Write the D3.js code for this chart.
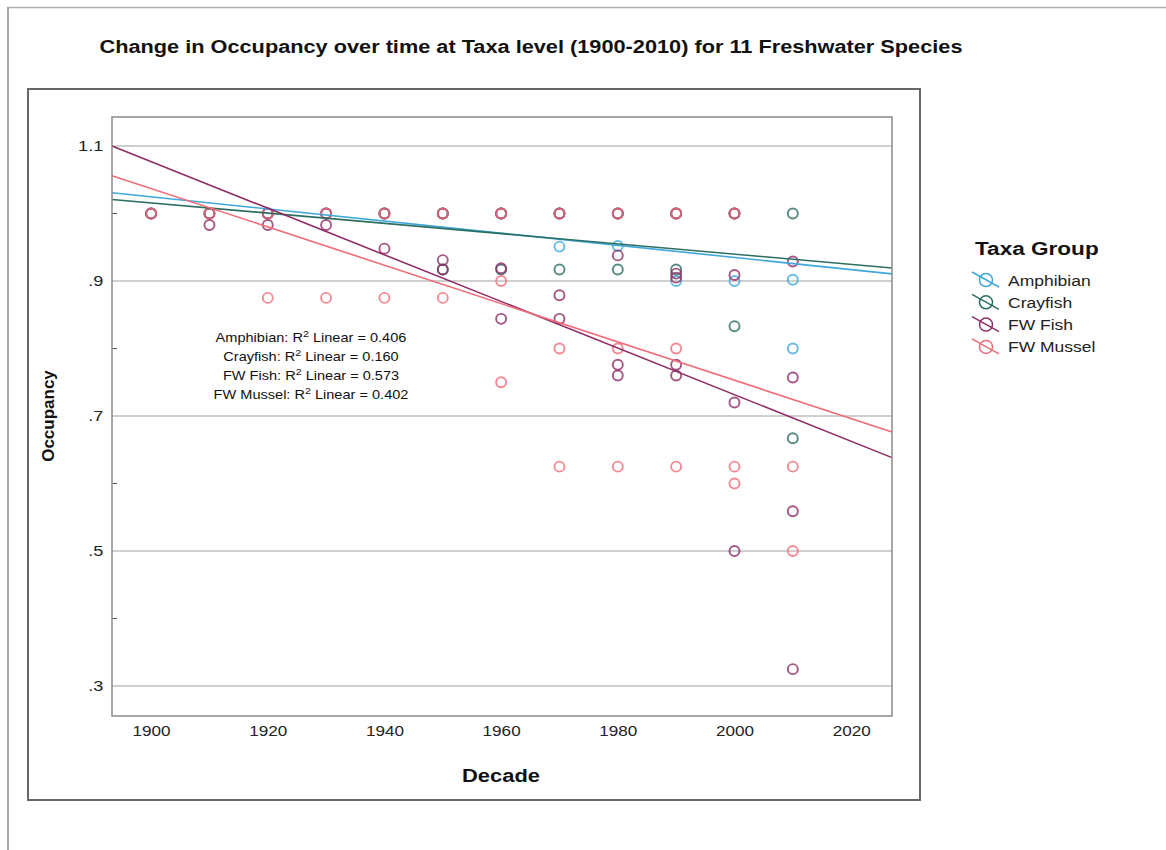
<!DOCTYPE html>
<html>
<head>
<meta charset="utf-8">
<script src="https://cdn.jsdelivr.net/npm/d3@7"></script>
<style>
  html, body { margin: 0; padding: 0; background: #fff; }
  svg { display: block; font-family: "Liberation Sans", Arial, sans-serif; }
</style>
</head>
<body>
<svg id="chart" width="1166" height="850"></svg>
<script>
// Taxa groups, in drawing order
const taxa = ["Amphibian", "Crayfish", "FW Fish", "FW Mussel"];
const taxaColors = ["#3fa7dc", "#2b6e62", "#8e2c66", "#f06c78"];

// Occupancy per decade, one [decade, occupancy] pair per species record
const amphibianPoints = [
  [1900, 1.0], [1910, 1.0], [1920, 1.0], [1930, 1.0], [1940, 1.0], [1950, 1.0],
  [1960, 1.0], [1970, 1.0], [1970, 0.951], [1980, 1.0], [1980, 0.952],
  [1990, 1.0], [1990, 0.90], [2000, 1.0], [2000, 0.90], [2010, 0.902], [2010, 0.80]
];
const crayfishPoints = [
  [1900, 1.0], [1910, 1.0], [1920, 1.0], [1930, 1.0], [1940, 1.0], [1950, 1.0],
  [1950, 0.917], [1960, 1.0], [1960, 0.917], [1970, 1.0], [1970, 0.917],
  [1980, 1.0], [1980, 0.917], [1990, 1.0], [1990, 0.917], [2000, 1.0],
  [2000, 0.833], [2010, 1.0], [2010, 0.667]
];
const fishPoints = [
  [1900, 1.0], [1910, 1.0], [1910, 0.983], [1920, 1.0], [1920, 0.983],
  [1930, 1.0], [1930, 0.983], [1940, 1.0], [1940, 0.948], [1950, 1.0],
  [1950, 0.931], [1950, 0.917], [1960, 1.0], [1960, 0.919], [1960, 0.844],
  [1970, 1.0], [1970, 0.879], [1970, 0.844], [1980, 1.0], [1980, 0.938],
  [1980, 0.776], [1980, 0.760], [1990, 1.0], [1990, 0.911], [1990, 0.905],
  [1990, 0.776], [1990, 0.760], [2000, 1.0], [2000, 0.909], [2000, 0.720],
  [2000, 0.50], [2010, 0.929], [2010, 0.757], [2010, 0.559], [2010, 0.325]
];
const musselPoints = [
  [1900, 1.0], [1910, 1.0], [1920, 1.0], [1920, 0.875], [1930, 1.0], [1930, 0.875],
  [1940, 1.0], [1940, 0.875], [1950, 1.0], [1950, 0.875], [1960, 1.0],
  [1960, 0.90], [1960, 0.75], [1970, 1.0], [1970, 0.80], [1970, 0.625],
  [1980, 1.0], [1980, 0.80], [1980, 0.625], [1990, 1.0], [1990, 0.80],
  [1990, 0.625], [2000, 1.0], [2000, 0.625], [2000, 0.60], [2010, 0.625], [2010, 0.50]
];

// Linear fit per taxon: fitted occupancy at 1900 and change per year
const fitAt1900 = [1.0248, 1.0158, 1.0769, 1.0370];
const fitSlope = [-0.000899, -0.000759, -0.003453, -0.00284];
const rSquared = ["0.406", "0.160", "0.573", "0.402"];

// Axis ticks
const xTicks = [1900, 1920, 1940, 1960, 1980, 2000, 2020];
const yLabelTicks = [1.1, 0.9, 0.7, 0.5, 0.3];
const yMinorTicks = [1.0, 0.8, 0.6, 0.4];

const pointSets = [amphibianPoints, crayfishPoints, fishPoints, musselPoints];

const svg = d3.select("#chart");

// Widen a text element horizontally about its own anchor point
function widen(sel, sx) {
  sel.each(function () {
    const t = d3.select(this);
    const tx = +t.attr("x") || 0, ty = +t.attr("y") || 0;
    const prev = t.attr("transform") || "";
    t.attr("x", 0).attr("y", 0)
      .attr("transform", `${prev} translate(${tx},${ty}) scale(${sx},1)`);
  });
  return sel;
}

// Page frame lines
svg.append("line").attr("x1", 7).attr("x2", 1166).attr("y1", 7.5).attr("y2", 7.5)
  .attr("stroke", "#b0b0b0").attr("stroke-width", 1.5);
svg.append("line").attr("x1", 8).attr("x2", 8).attr("y1", 7).attr("y2", 850)
  .attr("stroke", "#a8a8a8").attr("stroke-width", 2);

// Title
svg.append("text")
  .attr("x", 531).attr("y", 53)
  .attr("text-anchor", "middle")
  .attr("font-size", 17.5).attr("font-weight", "bold").attr("fill", "#111")
  .attr("textLength", 863).attr("lengthAdjust", "spacingAndGlyphs")
  .text("Change in Occupancy over time at Taxa level (1900-2010) for 11 Freshwater Species");

// Chart frame
svg.append("rect").attr("x", 28).attr("y", 89).attr("width", 892).attr("height", 711)
  .attr("fill", "none").attr("stroke", "#666").attr("stroke-width", 2);

const plot = { left: 112, right: 892, top: 117, bottom: 716 };

const x = d3.scaleLinear().domain([1893.3, 2027.0]).range([plot.left, plot.right]);
const y = d3.scaleLinear().domain([0.2556, 1.143]).range([plot.bottom, plot.top]);

// Gridlines
svg.append("g").selectAll("line").data(yLabelTicks).join("line")
  .attr("x1", plot.left).attr("x2", plot.right)
  .attr("y1", d => y(d)).attr("y2", d => y(d))
  .attr("stroke", "#cfcfcf").attr("stroke-width", 2);

// Y axis labels
const yAxis = d3.axisLeft(y).tickValues(yLabelTicks).tickSize(0).tickPadding(7)
  .tickFormat(d => d3.format(".1f")(d).replace(/^0/, ""));
const gy = svg.append("g").attr("transform", `translate(${plot.left},0)`).call(yAxis);
gy.select(".domain").remove();
gy.selectAll("text").attr("font-size", 14.5).attr("fill", "#222")
  .attr("font-family", "Liberation Sans, Arial, sans-serif")
  .attr("transform", "scale(1.25,1)");

// Minor tick marks inside the plot
svg.append("g").selectAll("line").data(yMinorTicks).join("line")
  .attr("x1", plot.left).attr("x2", plot.left + 5)
  .attr("y1", d => y(d)).attr("y2", d => y(d))
  .attr("stroke", "#555").attr("stroke-width", 1);

// X axis labels
const xAxis = d3.axisBottom(x).tickValues(xTicks).tickSize(0).tickPadding(10)
  .tickFormat(d3.format("d"));
const gx = svg.append("g").attr("transform", `translate(0,${plot.bottom})`).call(xAxis);
gx.select(".domain").remove();
gx.selectAll("text").attr("font-size", 14.5).attr("fill", "#222")
  .attr("font-family", "Liberation Sans, Arial, sans-serif")
  .attr("transform", "scale(1.18,1)");

// Points
const pointsG = svg.append("g");
pointSets.forEach((pts, i) => {
  pointsG.append("g").selectAll("circle").data(pts).join("circle")
    .attr("cx", d => x(d[0])).attr("cy", d => y(d[1])).attr("r", 5)
    .attr("fill", "none").attr("stroke", taxaColors[i])
    .attr("stroke-width", 1.9).attr("stroke-opacity", 0.8);
});

// Fit lines across the plot width
const [xMin, xMax] = x.domain();
const linesG = svg.append("g");
taxa.forEach((t, i) => {
  const f = yr => fitAt1900[i] + fitSlope[i] * (yr - 1900);
  linesG.append("line")
    .attr("x1", x(xMin)).attr("y1", y(f(xMin)))
    .attr("x2", x(xMax)).attr("y2", y(f(xMax)))
    .attr("stroke", taxaColors[i]).attr("stroke-width", 1.6);
});

// Plot border
svg.append("rect").attr("x", plot.left).attr("y", plot.top)
  .attr("width", plot.right - plot.left).attr("height", plot.bottom - plot.top)
  .attr("fill", "none").attr("stroke", "#8a8a8a").attr("stroke-width", 1.5);

// R-squared annotations
const ann = svg.append("g").attr("font-size", 13).attr("fill", "#111");
taxa.forEach((t, i) => {
  const tx = ann.append("text").attr("x", 311).attr("y", 342 + i * 19).attr("text-anchor", "middle");
  tx.append("tspan").text(`${t}: R`);
  tx.append("tspan").attr("baseline-shift", "super").attr("font-size", 9.5).text("2");
  tx.append("tspan").text(` Linear = ${rSquared[i]}`);
  widen(tx, 1.12);
});

// Axis titles
svg.append("text").attr("x", 501).attr("y", 782).attr("text-anchor", "middle")
  .attr("font-size", 17.5).attr("font-weight", "bold").attr("fill", "#111")
  .attr("textLength", 78).attr("lengthAdjust", "spacingAndGlyphs").text("Decade");
svg.append("text").attr("transform", "translate(54,416) rotate(-90)").attr("text-anchor", "middle")
  .attr("font-size", 17).attr("font-weight", "bold").attr("fill", "#111").text("Occupancy");

// Legend
const legend = svg.append("g");
widen(legend.append("text").attr("x", 975).attr("y", 255)
  .attr("font-size", 18.5).attr("font-weight", "bold").attr("fill", "#111").text("Taxa Group"), 1.22);
taxa.forEach((t, i) => {
  const cy = 280 + i * 22.3;
  const g = legend.append("g");
  g.append("circle").attr("cx", 986).attr("cy", cy).attr("r", 6.5)
    .attr("fill", "none").attr("stroke", taxaColors[i]).attr("stroke-width", 1.5);
  g.append("line").attr("x1", 972).attr("y1", cy - 8).attr("x2", 999).attr("y2", cy + 7)
    .attr("stroke", taxaColors[i]).attr("stroke-width", 1.5);
  widen(g.append("text").attr("x", 1008).attr("y", cy + 5.5).attr("font-size", 15.5)
    .attr("fill", "#222").text(t), 1.13);
});
</script>
</body>
</html>
